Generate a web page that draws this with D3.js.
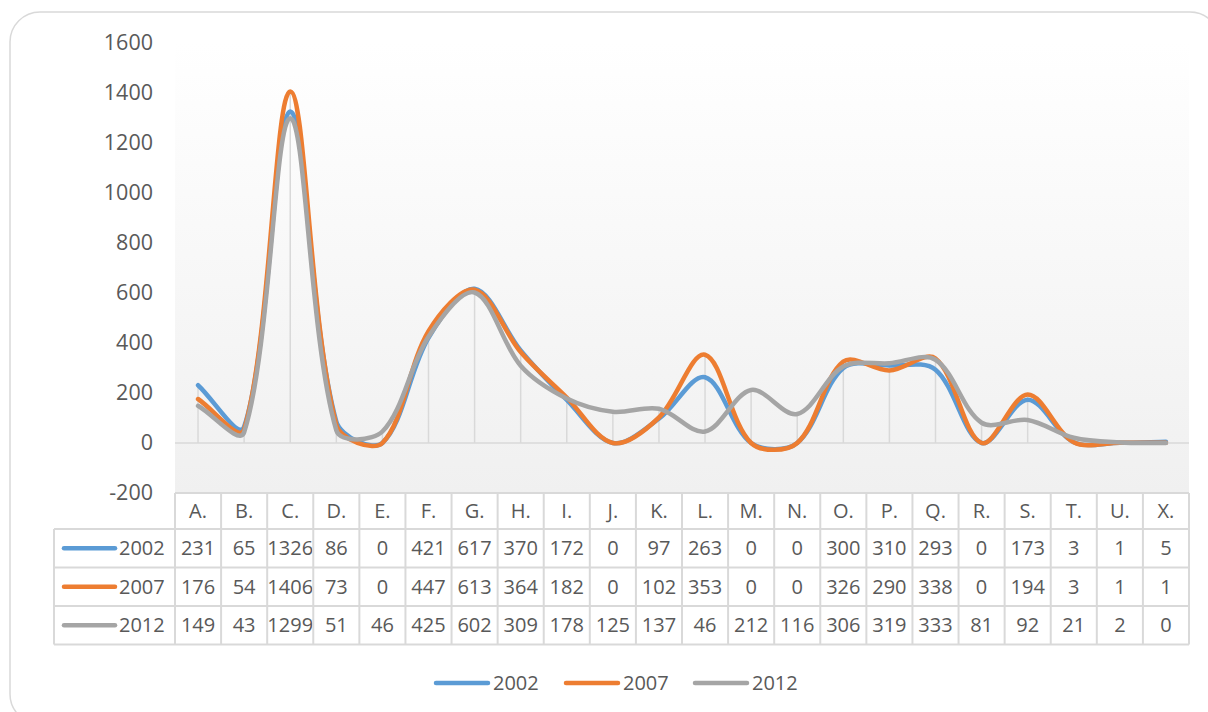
<!DOCTYPE html>
<html>
<head>
<meta charset="utf-8">
<script src="https://cdn.jsdelivr.net/npm/d3@7"></script>
<style>
 body { margin: 0; background: #fff; }
 svg { display: block; font-family: "Open Sans", sans-serif; }
</style>
</head>
<body>
<svg id="chart" width="1208" height="712"></svg>
<script>
const categories = ["A.", "B.", "C.", "D.", "E.", "F.", "G.", "H.", "I.", "J.", "K.", "L.", "M.", "N.", "O.", "P.", "Q.", "R.", "S.", "T.", "U.", "X."];
const years = ["2002", "2007", "2012"];
const v2002 = [231, 65, 1326, 86, 0, 421, 617, 370, 172, 0, 97, 263, 0, 0, 300, 310, 293, 0, 173, 3, 1, 5];
const v2007 = [176, 54, 1406, 73, 0, 447, 613, 364, 182, 0, 102, 353, 0, 0, 326, 290, 338, 0, 194, 3, 1, 1];
const v2012 = [149, 43, 1299, 51, 46, 425, 602, 309, 178, 125, 137, 46, 212, 116, 306, 319, 333, 81, 92, 21, 2, 0];
const yTicks = [-200, 0, 200, 400, 600, 800, 1000, 1200, 1400, 1600];
const colors = ["#5B9BD5", "#ED7D31", "#A5A5A5"];

const series = [v2002, v2007, v2012];
const textColor = "#595959";
const gridColor = "#d9d9d9";

const svg = d3.select("#chart");

// outer frame
svg.append("rect")
 .attr("x", 10).attr("y", 12)
 .attr("width", 1210).attr("height", 712)
 .attr("rx", 30).attr("ry", 30)
 .attr("fill", "#fff")
 .attr("stroke", gridColor).attr("stroke-width", 1.5);

const plot = { left: 175, right: 1189, top: 43, bottom: 493 };

const x = d3.scaleBand()
 .domain(categories)
 .range([plot.left, plot.right]);

const y = d3.scaleLinear()
 .domain([-200, 1600])
 .range([plot.bottom, plot.top]);

// plot area background gradient
const defs = svg.append("defs");
const grad = defs.append("linearGradient")
 .attr("id", "plotBg").attr("x1", 0).attr("y1", 0).attr("x2", 0).attr("y2", 1);
grad.append("stop").attr("offset", "0%").attr("stop-color", "#ffffff");
grad.append("stop").attr("offset", "100%").attr("stop-color", "#f0f0f0");

svg.append("rect")
 .attr("x", plot.left).attr("y", plot.top)
 .attr("width", plot.right - plot.left).attr("height", plot.bottom - plot.top)
 .attr("fill", "url(#plotBg)");

// y axis labels
const yAxis = svg.append("g")
 .attr("transform", `translate(${plot.left - 22},0)`)
 .call(d3.axisLeft(y).tickValues(yTicks).tickSize(0).tickPadding(0).tickFormat(d => String(d)));
yAxis.select(".domain").remove();
yAxis.selectAll("text")
 .attr("fill", textColor)
 .style("font-size", "21.5px")
 .style("font-family", "'Open Sans', sans-serif");

const cx = d => x(d) + x.bandwidth() / 2;

// drop lines
svg.append("g")
 .selectAll("line")
 .data(categories)
 .join("line")
 .attr("x1", cx).attr("x2", cx)
 .attr("y1", y(0))
 .attr("y2", (d, i) => y(Math.max(v2002[i], v2007[i], v2012[i])))
 .attr("stroke", gridColor).attr("stroke-width", 1.5);

// zero axis line
svg.append("line")
 .attr("x1", plot.left).attr("x2", plot.right)
 .attr("y1", y(0)).attr("y2", y(0))
 .attr("stroke", gridColor).attr("stroke-width", 1.5);

// Excel-like smoothing: bezier with tangents weighted by chord lengths
function smoothPath(vals) {
 const pts = vals.map((v, i) => [cx(categories[i]), y(v)]);
 const dist = (a, b) => Math.hypot(b[0] - a[0], b[1] - a[1]);
 const p = d3.path();
 p.moveTo(pts[0][0], pts[0][1]);
 for (let i = 0; i < pts.length - 1; i++) {
 const p0 = pts[Math.max(i - 1, 0)], p1 = pts[i], p2 = pts[i + 1], p3 = pts[Math.min(i + 2, pts.length - 1)];
 const d01 = dist(p0, p1), d12 = dist(p1, p2), d23 = dist(p2, p3);
 const f1 = (d01 + d12) > 0 ? d12 / (d01 + d12) / 3 : 0;
 const f2 = (d12 + d23) > 0 ? d12 / (d12 + d23) / 3 : 0;
 const c1 = [p1[0] + (p2[0] - p0[0]) * f1, p1[1] + (p2[1] - p0[1]) * f1];
 const c2 = [p2[0] - (p3[0] - p1[0]) * f2, p2[1] - (p3[1] - p1[1]) * f2];
 p.bezierCurveTo(c1[0], c1[1], c2[0], c2[1], p2[0], p2[1]);
 }
 return p.toString();
}

svg.append("g")
 .selectAll("path")
 .data(series)
 .join("path")
 .attr("d", d => smoothPath(d))
 .attr("fill", "none")
 .attr("stroke", (d, i) => colors[i])
 .attr("stroke-width", 4.5)
 .attr("stroke-linecap", "round")
 .attr("stroke-linejoin", "round");

// data table
const tableTop = 493;
const headerH = 36;
const rowH = 38.5;
const tableLeft = 54;
const table = svg.append("g");
const fontSize = "20px";

// header row texts
table.selectAll("text.hdr")
 .data(categories)
 .join("text")
 .attr("class", "hdr")
 .attr("x", cx)
 .attr("y", tableTop + headerH / 2 + 7)
 .attr("text-anchor", "middle")
 .attr("fill", textColor)
 .style("font-size", fontSize)
 .text(d => d);

series.forEach((vals, r) => {
 const ry = tableTop + headerH + r * rowH;
 table.selectAll(`text.r${r}`)
 .data(vals)
 .join("text")
 .attr("class", `r${r}`)
 .attr("x", (d, i) => cx(categories[i]))
 .attr("y", ry + rowH / 2 + 7)
 .attr("text-anchor", "middle")
 .attr("fill", textColor)
 .style("font-size", fontSize)
 .text(d => d);

 table.append("line")
 .attr("x1", 64).attr("x2", 115)
 .attr("y1", ry + rowH / 2).attr("y2", ry + rowH / 2)
 .attr("stroke", colors[r]).attr("stroke-width", 4.5)
 .attr("stroke-linecap", "round");
 table.append("text")
 .attr("x", 119)
 .attr("y", ry + rowH / 2 + 7)
 .attr("fill", textColor)
 .style("font-size", fontSize)
 .text(years[r]);
});

// table grid
const tableBottom = tableTop + headerH + rowH * 3;
const gridG = table.append("g")
 .attr("stroke", gridColor).attr("stroke-width", 2).attr("fill", "none");
// horizontal lines
gridG.append("line").attr("x1", plot.left).attr("x2", plot.right).attr("y1", tableTop).attr("y2", tableTop);
[0, 1, 2, 3].forEach(k => {
 const yy = tableTop + headerH + k * rowH;
 gridG.append("line").attr("x1", tableLeft).attr("x2", plot.right).attr("y1", yy).attr("y2", yy);
});
// vertical lines
gridG.append("line").attr("x1", tableLeft).attr("x2", tableLeft)
 .attr("y1", tableTop + headerH).attr("y2", tableBottom);
categories.concat([null]).forEach((c, i) => {
 const xx = c === null ? plot.right : x(c);
 gridG.append("line").attr("x1", xx).attr("x2", xx)
 .attr("y1", tableTop).attr("y2", tableBottom);
});

// legend
const legendX = [436, 566, 695];
const legend = svg.append("g");
years.forEach((yr, i) => {
 legend.append("line")
 .attr("x1", legendX[i]).attr("x2", legendX[i] + 52)
 .attr("y1", 683).attr("y2", 683)
 .attr("stroke", colors[i]).attr("stroke-width", 4.5)
 .attr("stroke-linecap", "round");
 legend.append("text")
 .attr("x", legendX[i] + 57)
 .attr("y", 690)
 .attr("fill", textColor)
 .style("font-size", fontSize)
 .text(yr);
});
</script>
</body>
</html>
